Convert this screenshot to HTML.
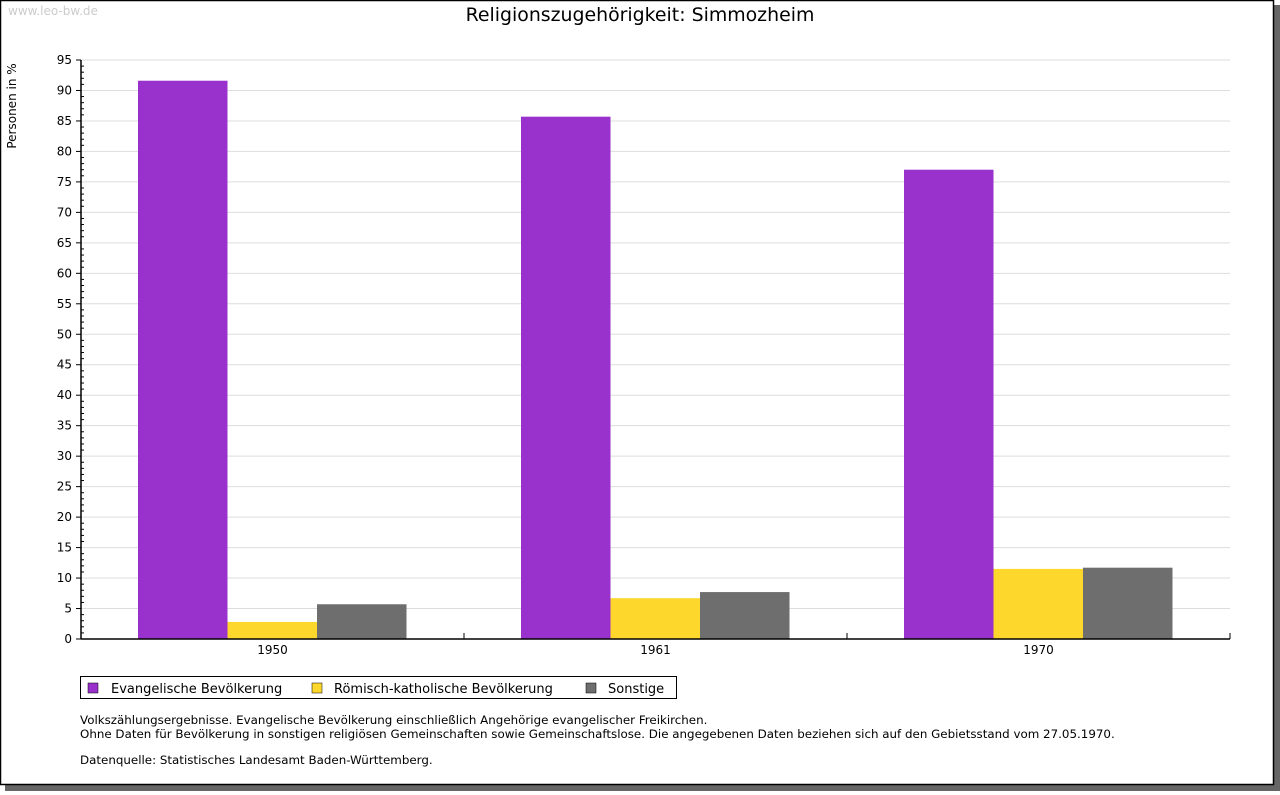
<!DOCTYPE html>
<html><head><meta charset="utf-8"><style>
body{margin:0;background:#fff;width:1280px;height:791px;overflow:hidden;font-family:"DejaVu Sans","Liberation Sans",sans-serif;}
</style></head><body>
<svg width="1280" height="791" xmlns="http://www.w3.org/2000/svg" font-family="DejaVu Sans, Liberation Sans, sans-serif">
<rect x="5" y="5" width="1275" height="786" fill="#666"/>
<rect x="0.5" y="0.5" width="1273" height="784" fill="#fff" stroke="#000" stroke-width="1.5"/>
<text x="8" y="15" font-size="12" fill="#ccc">www.leo-bw.de</text>
<text x="640" y="21" font-size="18.9" text-anchor="middle" fill="#000">Religionszugehörigkeit: Simmozheim</text>
<text transform="translate(16,106) rotate(-90)" font-size="12" text-anchor="middle">Personen in %</text>
<g id="grid"></g><g id="bars"></g><g id="axes"></g>
<g>
<rect x="80.5" y="676.5" width="596" height="22" fill="#fff" stroke="#000"/>
<rect x="88" y="683" width="10" height="10" fill="#9932cc" stroke="#000" stroke-width="0.5"/>
<text x="111" y="693" font-size="13">Evangelische Bevölkerung</text>
<rect x="312" y="683" width="10" height="10" fill="#fdd72b" stroke="#000" stroke-width="0.5"/>
<text x="334" y="693" font-size="13">Römisch-katholische Bevölkerung</text>
<rect x="586" y="683" width="10" height="10" fill="#6e6e6e" stroke="#000" stroke-width="0.5"/>
<text x="608" y="693" font-size="13">Sonstige</text>
</g>
<g font-size="11.86">
<text x="80" y="724">Volkszählungsergebnisse. Evangelische Bevölkerung einschließlich Angehörige evangelischer Freikirchen.</text>
<text x="80" y="738">Ohne Daten für Bevölkerung in sonstigen religiösen Gemeinschaften sowie Gemeinschaftslose. Die angegebenen Daten beziehen sich auf den Gebietsstand vom 27.05.1970.</text>
<text x="80" y="764">Datenquelle: Statistisches Landesamt Baden-Württemberg.</text>
</g>
</svg>
<script>
const categories=["1950","1961","1970"];
const evangelisch=[91.6,85.7,77.0];
const katholisch=[2.8,6.7,11.5];
const sonstige=[5.7,7.7,11.7];
const yTicks=[0,5,10,15,20,25,30,35,40,45,50,55,60,65,70,75,80,85,90,95];
const NS="http://www.w3.org/2000/svg";
const x0=81,x1=1230,y0=639,y1=60,yMax=95;
const y=v=>y0-(v/yMax)*(y0-y1);
const gw=(x1-x0)/categories.length;
function mk(tag,attrs,parent){const e=document.createElementNS(NS,tag);for(const k in attrs)e.setAttribute(k,attrs[k]);document.getElementById(parent).appendChild(e);return e;}
const grid='grid',axes='axes',bars='bars';
yTicks.forEach(t=>{
 if(t>0){const g=mk('line',{x1:x0,x2:x1,y1:y(t),y2:y(t),stroke:'#ddd'},grid);
 
 }
 mk('line',{x1:x0-5,x2:x0,y1:y(t),y2:y(t),stroke:'#000'},axes);
 const l=mk('text',{x:x0-9,y:y(t)+4,'font-size':12,'text-anchor':'end'},axes);l.textContent=t;
 
 
});
for(let v=0;v<=yMax;v++){if(v%5)mk('line',{x1:x0,x2:x0+3,y1:y(v),y2:y(v),stroke:'#000'},axes);}
mk('line',{x1:x0,x2:x0,y1:y1,y2:y0,stroke:'#000','stroke-width':1.5},axes);
mk('line',{x1:x0,x2:x1,y1:y0,y2:y0,stroke:'#000','stroke-width':1.5},axes);
for(let i=1;i<=categories.length;i++){mk('line',{x1:x0+gw*i,x2:x0+gw*i,y1:y0,y2:y0-6,stroke:'#000'},axes);}
const series=[[evangelisch,'#9932cc','evangelisch'],[katholisch,'#fdd72b','katholisch'],[sonstige,'#6e6e6e','sonstige']];
const bw=89.5,off=57;
categories.forEach((c,i)=>{
 series.forEach((s,j)=>{
  const v=s[0][i];
  const r=mk('rect',{x:x0+gw*i+off+bw*j,y:y(v),width:bw,height:y0-y(v),fill:s[1]},bars);
  
  
 });
 const t=mk('text',{x:x0+gw*i+gw/2,y:y0+15,'font-size':12,'text-anchor':'middle'},axes);t.textContent=c;
 
 
});
</script>
</body></html>
